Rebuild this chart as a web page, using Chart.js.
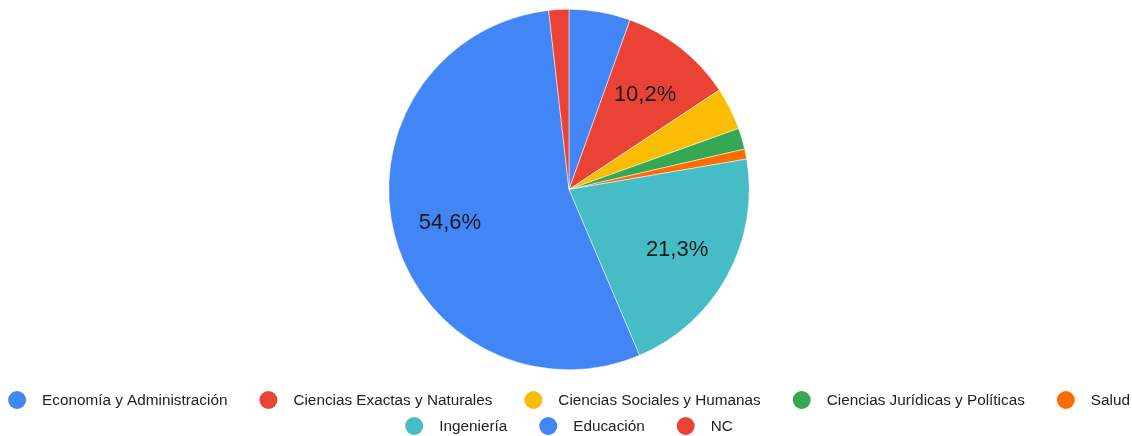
<!DOCTYPE html>
<html lang="es">
<head>
<meta charset="utf-8">
<title>Distribución por área</title>
<script src="https://cdn.jsdelivr.net/npm/chart.js@4.4.1/dist/chart.umd.min.js"></script>
<style>
  html, body { margin: 0; padding: 0; background: #fff; }
  #wrap { position: relative; width: 1132px; height: 436px; }
</style>
</head>
<body>
<div id="wrap"><canvas id="areaChart"></canvas></div>
<script>
const categories = [
    'Economía y Administración',
    'Ciencias Exactas y Naturales',
    'Ciencias Sociales y Humanas',
    'Ciencias Jurídicas y Políticas',
    'Salud',
    'Ingeniería',
    'Educación',
    'NC'
];
const shares = [5.5, 10.2, 3.8, 1.9, 0.9, 21.3, 54.6, 1.8];
const sliceColors = ['#4285f4', '#ea4335', '#fbbc04', '#34a853', '#ff6d01', '#46bdc6', '#4285f4', '#ea4335'];
const labelThreshold = 10; // only slices of 10% or more get a percentage

const FONT = '"Liberation Sans", Arial, sans-serif';
Chart.defaults.font.family = FONT;

// Percentage text inside the big slices, comma as decimal separator
const sliceLabels = {
    id: 'sliceLabels',
    afterDatasetsDraw(chart) {
        const { ctx } = chart;
        const meta = chart.getDatasetMeta(0);
        const values = chart.data.datasets[0].data;
        const total = values.reduce((a, b) => a + b, 0);
        const size = 22;
        ctx.save();
        ctx.font = size + 'px ' + FONT;
        ctx.fillStyle = '#1a1a1a';
        ctx.textAlign = 'center';
        ctx.textBaseline = 'alphabetic';
        meta.data.forEach((arc, i) => {
            const pct = values[i] / total * 100;
            if (pct < labelThreshold) return;
            const { x, y, startAngle, endAngle, outerRadius } =
                arc.getProps(['x', 'y', 'startAngle', 'endAngle', 'outerRadius'], true);
            const mid = (startAngle + endAngle) / 2;
            const r = outerRadius * 0.683;
            // baseline pushed down so the digits sit centred on the point
            ctx.fillText(pct.toFixed(1).replace('.', ',') + '%',
                x + Math.cos(mid) * r, y + Math.sin(mid) * r + size * 0.358);
        });
        ctx.restore();
    }
};

// Centered legend under the pie, wraps into rows
const bottomLegend = {
    id: 'bottomLegend',
    afterDraw(chart) {
        const { ctx, chartArea } = chart;
        const colors = chart.data.datasets[0].backgroundColor;
        const dot = 9, toText = 25, gap = 32, rowH = 26, size = 15.3;
        ctx.save();
        ctx.font = size + 'px ' + FONT;
        const items = chart.data.labels.map((text, i) => ({
            text,
            color: colors[i],
            w: dot + toText + ctx.measureText(text).width
        }));

        const maxW = chart.width - 8;
        const rows = [[]];
        let rowW = 0;
        items.forEach(it => {
            const row = rows[rows.length - 1];
            const add = row.length ? gap + it.w : it.w;
            if (row.length && rowW + add > maxW) {
                rows.push([it]);
                rowW = it.w;
            } else {
                row.push(it);
                rowW += add;
            }
        });

        const cx = (chartArea.left + chartArea.right) / 2;
        ctx.textAlign = 'left';
        ctx.textBaseline = 'alphabetic';
        rows.forEach((row, r) => {
            const width = row.reduce((s, it) => s + it.w, 0) + gap * (row.length - 1);
            let x = cx - width / 2;
            const y = chartArea.bottom + 30 + r * rowH;
            row.forEach(it => {
                ctx.beginPath();
                ctx.arc(x + dot, y, dot, 0, Math.PI * 2);
                ctx.fillStyle = it.color;
                ctx.fill();
                ctx.fillStyle = '#222';
                ctx.fillText(it.text, x + dot + toText, y + size * 0.358 - 0.5);
                x += it.w + gap;
            });
        });
        ctx.restore();
    }
};

const ctx = document.getElementById('areaChart').getContext('2d');

const areaChart = new Chart(ctx, {
    type: 'pie',
    data: {
        labels: categories,
        datasets: [{
            data: shares,
            backgroundColor: sliceColors,
            borderColor: '#ffffff',
            borderWidth: 0.5
        }]
    },
    options: {
        responsive: true,
        maintainAspectRatio: false,
        animation: false,
        layout: {
            padding: { top: 9, bottom: 66, left: 6, right: 0 }
        },
        plugins: {
            legend: { display: false },
            tooltip: { enabled: false }
        }
    },
    plugins: [sliceLabels, bottomLegend]
});
</script>
</body>
</html>
